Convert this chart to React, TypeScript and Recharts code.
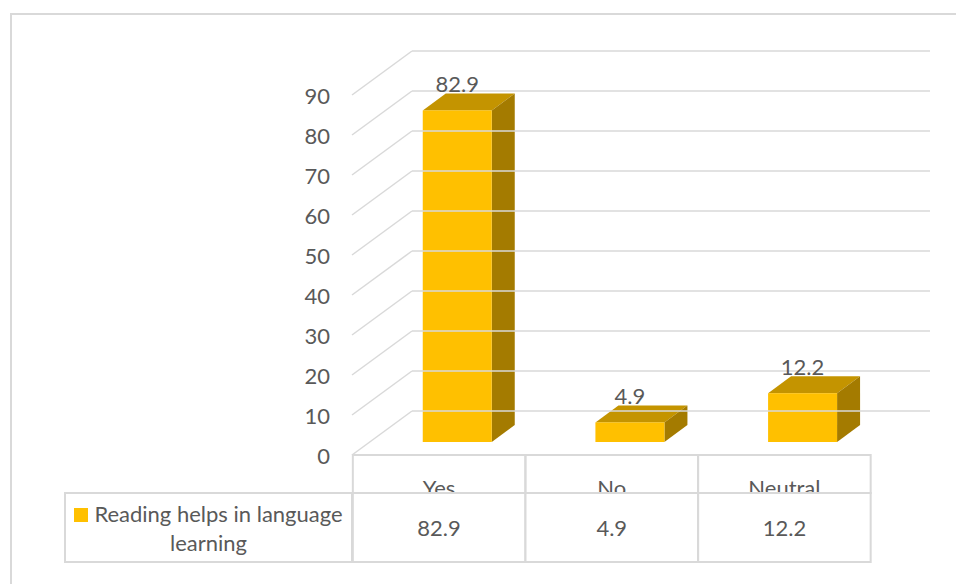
import React from 'react'
import { BarChart, Bar, XAxis, YAxis, LabelList } from 'recharts'

const categories = ['Yes', 'No', 'Neutral']
const values = [82.9, 4.9, 12.2]
const yTicks = [0, 10, 20, 30, 40, 50, 60, 70, 80, 90]
const seriesName = 'Reading helps in language learning'

const data = categories.map((c, i) => ({ name: c, value: values[i] }))

const FONT = 'Lato, "Open Sans", sans-serif'
const FS = 22
const TEXT = '#595959'
const LINE = '#d9d9d9'
const FRONT = '#FFC000'
const TOP = '#C49400'
const SIDE = '#A47B00'

// 3d offsets (px)
const DEPTH_X = 23
const DEPTH_Y = 17
const BACK_X0 = 412
const BACK_X1 = 930
const SIDE_X = 352

// table geometry
const TABLE_TOP = 455
const TABLE_MID = 493
const TABLE_BOT = 562
const COL_W = 172.5
const COL_SHIFT = -18

const YTick = (props: any) => {
  const { y, payload } = props
  const front = y + 13
  const back = y - 31
  return (
    <g>
      <line x1={SIDE_X} y1={front} x2={BACK_X0} y2={back} stroke={LINE} strokeWidth={1.5} />
      <line x1={BACK_X0} y1={back} x2={BACK_X1} y2={back} stroke={LINE} strokeWidth={1.5} />
      <text x={330} y={front} textAnchor="end" dominantBaseline="central"
        fill={TEXT} fontSize={FS} fontFamily={FONT}>{payload.value}</text>
    </g>
  )
}

const XTick = (props: any) => {
  const { x, payload, index } = props
  const cx = x + COL_SHIFT
  const x0 = cx - COL_W / 2
  return (
    <g>
      <rect x={x0} y={TABLE_TOP} width={COL_W} height={TABLE_MID - TABLE_TOP}
        fill="none" stroke={LINE} strokeWidth={2} />
      <text x={cx} y={496} textAnchor="middle" fill={TEXT} fontSize={FS} fontFamily={FONT}>
        {payload.value}
      </text>
      <rect x={x0} y={TABLE_MID} width={COL_W} height={TABLE_BOT - TABLE_MID}
        fill="#fff" stroke={LINE} strokeWidth={2} />
      <text x={cx} y={527} textAnchor="middle" dominantBaseline="central"
        fill={TEXT} fontSize={FS} fontFamily={FONT}>
        {values[index]}
      </text>
    </g>
  )
}

const Bar3D = (props: any) => {
  const { x, y, width: w, height: h } = props
  const dx = DEPTH_X
  const dy = DEPTH_Y
  return (
    <g>
      <polygon points={`${x},${y} ${x + w},${y} ${x + w + dx},${y - dy} ${x + dx},${y - dy}`} fill={TOP} />
      <polygon points={`${x + w},${y} ${x + w + dx},${y - dy} ${x + w + dx},${y + h - dy} ${x + w},${y + h}`} fill={SIDE} />
      <rect x={x} y={y} width={w} height={h} fill={FRONT} />
    </g>
  )
}

const ValueLabel = (props: any) => {
  const { x, y, width, value } = props
  return (
    <text x={x + width / 2} y={y - DEPTH_Y - 1} textAnchor="middle"
      fill={TEXT} fontSize={FS} fontFamily={FONT}>{value}</text>
  )
}

const LegendCell = () => (
  <div style={{
    position: 'absolute', left: 64, top: 492,
    boxSizing: 'border-box', width: 289, height: 71, border: `2px solid ${LINE}`,
    display: 'flex', alignItems: 'center', justifyContent: 'center',
    fontFamily: FONT, fontSize: FS, color: TEXT, textAlign: 'center', lineHeight: '29px',
  }}>
    <div>
      <span style={{ display: 'inline-block', width: 14, height: 14, background: FRONT, marginRight: 6 }} />
      {'Reading helps in language'}<br />{'learning'}
    </div>
  </div>
)

export default function App() {
  return (
    <div style={{ position: 'relative', width: 956, height: 584, overflow: 'hidden', background: '#fff' }}>
      <style>{'body{margin:0}'}</style>
      <div style={{
        position: 'absolute', left: 10, top: 13, width: 1000, height: 700,
        border: `2px solid ${LINE}`,
      }} />
      <BarChart
        width={956}
        height={584}
        data={data}
        margin={{ top: 82, right: 67.25, left: 350.75, bottom: 112 }}
        style={{ position: 'absolute', left: 0, top: 0 }}
      >
        <YAxis
          domain={[0, 90]}
          ticks={yTicks}
          width={20}
          axisLine={false}
          tickLine={false}
          tick={<YTick />}
          interval={0}
        />
        <XAxis
          dataKey="name"
          height={30}
          axisLine={false}
          tickLine={false}
          tick={<XTick />}
          interval={0}
        />
        <Bar dataKey="value" name={seriesName} barSize={69} shape={<Bar3D />} isAnimationActive={false}>
          <LabelList dataKey="value" content={<ValueLabel />} />
        </Bar>
      </BarChart>
      <LegendCell />
    </div>
  )
}
